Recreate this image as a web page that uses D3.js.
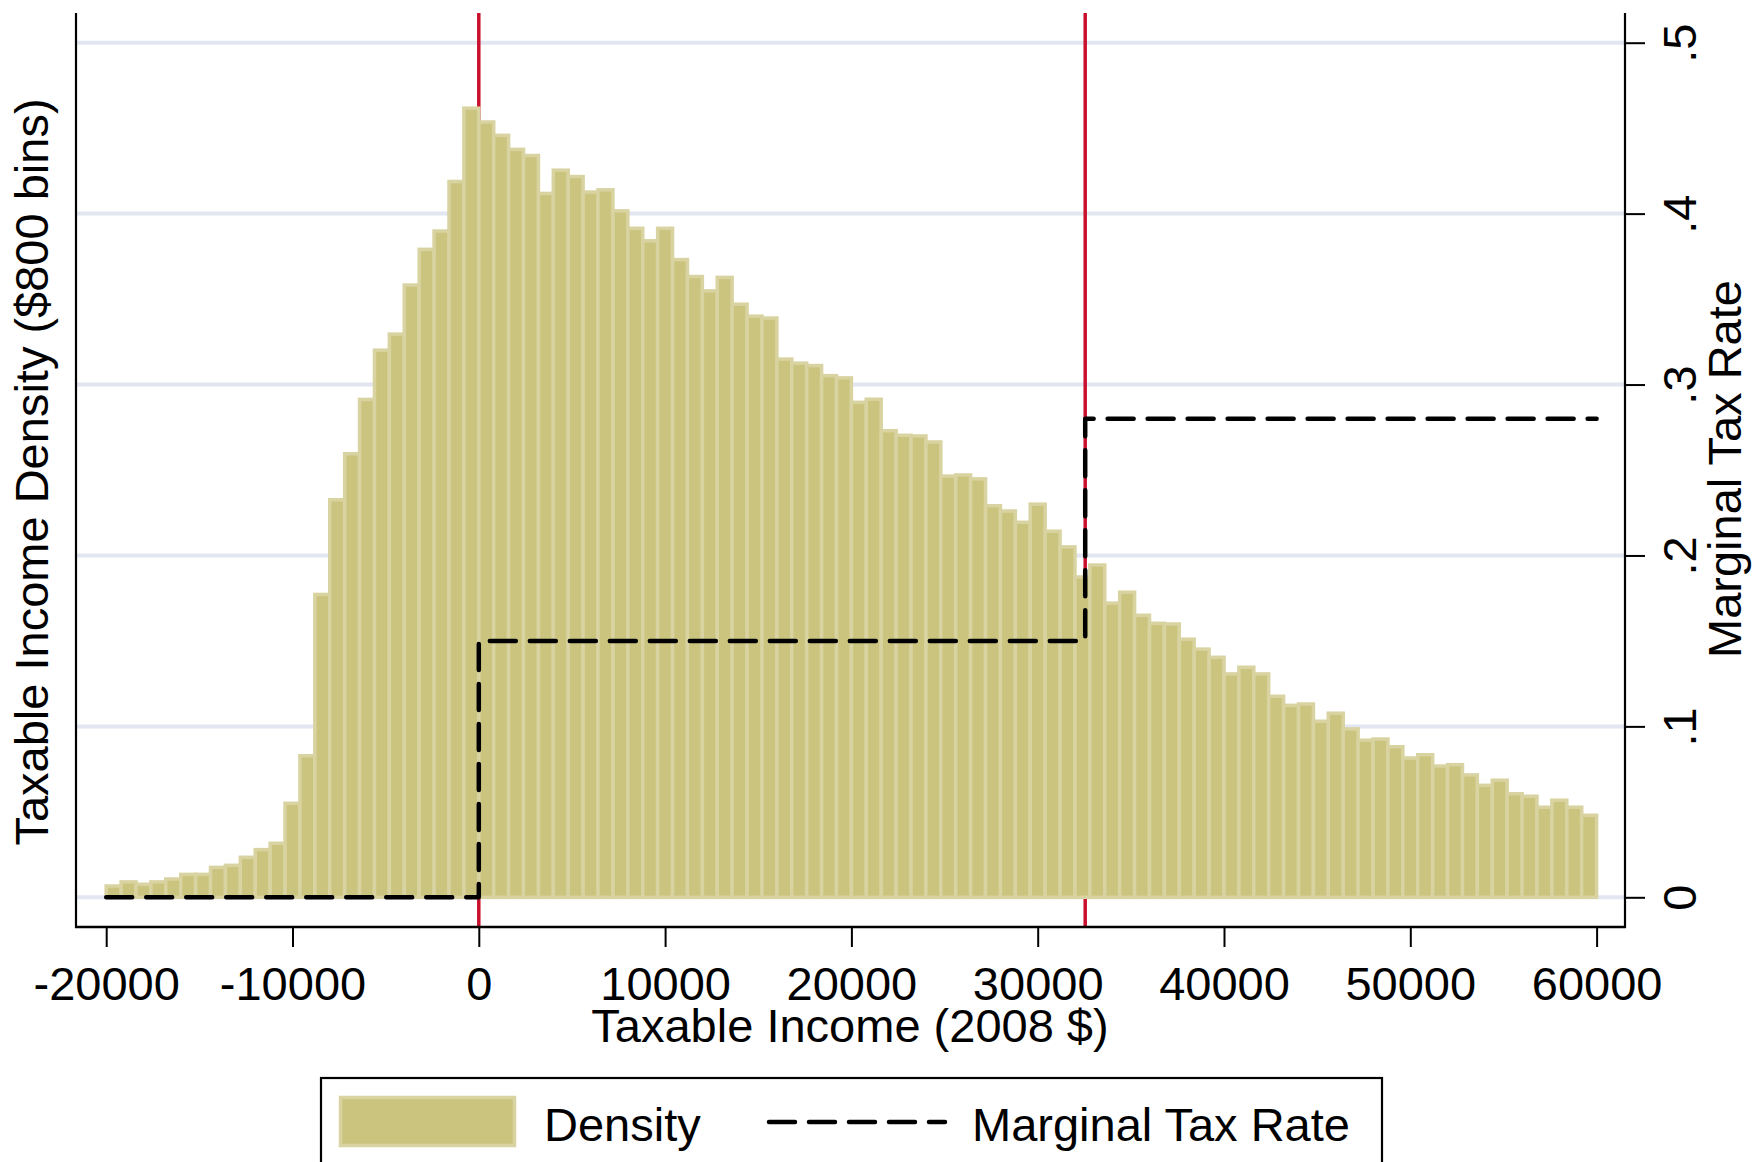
<!DOCTYPE html>
<html>
<head>
<meta charset="utf-8">
<script src="https://cdn.jsdelivr.net/npm/d3@7"></script>
<style>
  html, body { margin: 0; padding: 0; background: #ffffff; }
  svg { display: block; font-family: "Liberation Sans", Arial, Helvetica, sans-serif; }
</style>
</head>
<body>
<svg id="chart" width="1754" height="1162"></svg>
<script>
// ---------------- DATA ----------------
const binStart = -20000;      // first bin lower edge ($)
const binWidth = 800;         // $800 bins
const density = [
  0.0066, 0.0090, 0.0076, 0.0090, 0.0107, 0.0134, 0.0134, 0.0175, 0.0187, 0.0234,
  0.0279, 0.0316, 0.0550, 0.0828, 0.1772, 0.2326, 0.2595, 0.2913, 0.3201, 0.3295,
  0.3582, 0.3791, 0.3898, 0.4188, 0.4617, 0.4536, 0.4458, 0.4376, 0.4340, 0.4118,
  0.4254, 0.4217, 0.4126, 0.4139, 0.4016, 0.3914, 0.3841, 0.3914, 0.3731, 0.3632,
  0.3548, 0.3627, 0.3470, 0.3400, 0.3389, 0.3149, 0.3125, 0.3111, 0.3052, 0.3039,
  0.2896, 0.2914, 0.2730, 0.2703, 0.2699, 0.2664, 0.2464, 0.2471, 0.2448, 0.2291,
  0.2260, 0.2194, 0.2300, 0.2142, 0.2050, 0.1874, 0.1944, 0.1721, 0.1785, 0.1650,
  0.1603, 0.1599, 0.1510, 0.1452, 0.1404, 0.1307, 0.1346, 0.1307, 0.1176, 0.1123,
  0.1131, 0.1030, 0.1077, 0.0985, 0.0919, 0.0926, 0.0881, 0.0815, 0.0834, 0.0768,
  0.0776, 0.0716, 0.0655, 0.0685, 0.0606, 0.0591, 0.0527, 0.0568, 0.0527, 0.0480
];
const mtrIncome = [-20000, 0, 0, 32550, 32550, 60000];
const mtrRate   = [0, 0, 0.15, 0.15, 0.28, 0.28];
const kinkPoints = [0, 32550];
const xTicks = [-20000, -10000, 0, 10000, 20000, 30000, 40000, 50000, 60000];
const yTicks = [0, 0.1, 0.2, 0.3, 0.4, 0.5];
const yTickLabels = ["0", ".1", ".2", ".3", ".4", ".5"];
const xTitle = "Taxable Income (2008 $)";
const yLeftTitle = "Taxable Income Density ($800 bins)";
const yRightTitle = "Marginal Tax Rate";
const legendLabels = ["Density", "Marginal Tax Rate"];

// ---------------- LAYOUT ----------------
const plotLeft = 76, plotRight = 1625, plotTop = 13, plotBottom = 927;
const FS = 47;
const barFill = "#cbc47f", barEdge = "#d8d3a0";
const gridColor = "#e2e6f1";
const kinkColor = "#c8102e";

const svg = d3.select("#chart");

const x = d3.scaleLinear().domain([-20000, 60000]).range([106.2, 1596.6]);
const y = d3.scaleLinear().domain([0, 0.5]).range([897.3, 42.7]);

const bins = density.map((d, i) => ({ x0: binStart + i * binWidth, x1: binStart + (i + 1) * binWidth, v: d }));

// gridlines
svg.append("g").selectAll("line").data(yTicks).join("line")
  .attr("x1", plotLeft).attr("x2", plotRight)
  .attr("y1", d => y(d)).attr("y2", d => y(d))
  .attr("stroke", gridColor).attr("stroke-width", 4);

// kink (red) lines
svg.append("g").selectAll("line").data(kinkPoints).join("line")
  .attr("x1", d => x(d)).attr("x2", d => x(d))
  .attr("y1", plotTop).attr("y2", plotBottom)
  .attr("stroke", kinkColor).attr("stroke-width", 3.5);

// bars
svg.append("g").selectAll("rect").data(bins).join("rect")
  .attr("x", d => x(d.x0))
  .attr("width", d => x(d.x1) - x(d.x0))
  .attr("y", d => y(d.v))
  .attr("height", d => y(0) - y(d.v))
  .attr("fill", barFill)
  .attr("stroke", barEdge)
  .attr("stroke-width", 3.5);

// MTR dashed step line
const mtrPts = mtrIncome.map((d, i) => [d, mtrRate[i]]);
svg.append("path")
  .datum(mtrPts)
  .attr("d", d3.line().x(d => x(d[0])).y(d => y(d[1])))
  .attr("fill", "none")
  .attr("stroke", "#000")
  .attr("stroke-width", 4.5)
  .attr("stroke-dasharray", "26,14")
  .attr("stroke-linecap", "round")
  .attr("stroke-linejoin", "round");

// axes lines
const axisG = svg.append("g").attr("stroke", "#000");
axisG.append("line").attr("x1", plotLeft).attr("x2", plotLeft).attr("y1", plotTop).attr("y2", plotBottom + 1).attr("stroke-width", 2.2);
axisG.append("line").attr("x1", plotRight).attr("x2", plotRight).attr("y1", plotTop).attr("y2", plotBottom + 1).attr("stroke-width", 2.2);
axisG.append("line").attr("x1", plotLeft - 1).attr("x2", plotRight + 1).attr("y1", plotBottom).attr("y2", plotBottom).attr("stroke-width", 2.6);

// x axis ticks
const xAxis = d3.axisBottom(x).tickValues(xTicks).tickSize(20).tickFormat(d => String(d));
const gx = svg.append("g").attr("transform", `translate(0,${plotBottom})`).call(xAxis);
gx.select(".domain").remove();
gx.selectAll(".tick line").attr("stroke", "#000").attr("stroke-width", 2);
gx.selectAll(".tick text").attr("font-size", FS).attr("fill", "#000")
  .attr("font-family", "Liberation Sans, Arial, sans-serif")
  .attr("dy", null).attr("y", 0)
  .attr("transform", "translate(0,73)");

// right axis ticks
const yAxis = d3.axisRight(y).tickValues(yTicks).tickSize(20).tickFormat((d, i) => yTickLabels[i]);
const gy = svg.append("g").attr("transform", `translate(${plotRight},0)`).call(yAxis);
gy.select(".domain").remove();
gy.selectAll(".tick line").attr("stroke", "#000").attr("stroke-width", 2);
gy.selectAll(".tick text")
  .attr("font-size", FS).attr("fill", "#000")
  .attr("font-family", "Liberation Sans, Arial, sans-serif")
  .attr("x", 0).attr("dy", null).attr("y", 0)
  .attr("text-anchor", "middle")
  .attr("transform", "translate(71,0) rotate(-90)");

// axis titles
svg.append("text").attr("x", 850).attr("y", 1042).attr("text-anchor", "middle")
  .attr("font-size", FS).text(xTitle);
svg.append("text").attr("transform", "translate(48,472) rotate(-90)").attr("text-anchor", "middle")
  .attr("font-size", FS).text(yLeftTitle);
svg.append("text").attr("transform", "translate(1741,469) rotate(-90)").attr("text-anchor", "middle")
  .attr("font-size", FS).text(yRightTitle);

// legend
const lg = svg.append("g");
lg.append("rect").attr("x", 321).attr("y", 1078).attr("width", 1061).attr("height", 120)
  .attr("fill", "#fff").attr("stroke", "#000").attr("stroke-width", 2.2);
lg.append("rect").attr("x", 340.5).attr("y", 1097.5).attr("width", 174).attr("height", 48)
  .attr("fill", barFill).attr("stroke", barEdge).attr("stroke-width", 3.5);
lg.append("text").attr("x", 544).attr("y", 1141).attr("font-size", FS).text(legendLabels[0]);
lg.append("line").attr("x1", 769).attr("x2", 945).attr("y1", 1122).attr("y2", 1122)
  .attr("stroke", "#000").attr("stroke-width", 4.5)
  .attr("stroke-dasharray", "26,14").attr("stroke-linecap", "round");
lg.append("text").attr("x", 972).attr("y", 1141).attr("font-size", FS).text(legendLabels[1]);
</script>
</body>
</html>
